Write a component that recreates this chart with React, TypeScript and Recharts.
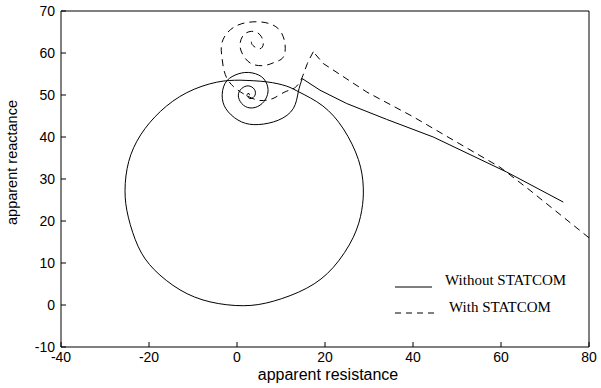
import React from "react";
import { LineChart, Line, XAxis, YAxis, Legend } from "recharts";

const X_TICKS = [-40, -20, 0, 20, 40, 60, 80];
const Y_TICKS = [-10, 0, 10, 20, 30, 40, 50, 60, 70];

const FONT = "'Liberation Sans', Arial, Helvetica, sans-serif";
const SERIF = "'Liberation Serif', 'Times New Roman', serif";

// Without STATCOM: load line up to the fault point
const solidLine = [
  { x: 74.16, y: 24.5 },
  { x: 61.3, y: 31.65 },
  { x: 44.6, y: 40.0 },
  { x: 34.0, y: 44.2 },
  { x: 24.93, y: 47.97 },
  { x: 18.86, y: 51.15 },
  { x: 14.84, y: 53.9 },
];

// Without STATCOM: spiral during the fault
const solidSpiral = [
  { x: 14.84, y: 53.9 },
  { x: 13.93, y: 50.74 },
  { x: 12.8, y: 46.78 },
  { x: 9.39, y: 44.0 },
  { x: 4.84, y: 42.96 },
  { x: 1.07, y: 43.58 },
  { x: -1.98, y: 45.97 },
  { x: -3.34, y: 49.16 },
  { x: -2.73, y: 52.74 },
  { x: -0.45, y: 54.73 },
  { x: 2.57, y: 55.37 },
  { x: 5.61, y: 54.32 },
  { x: 6.98, y: 51.93 },
  { x: 6.75, y: 49.55 },
  { x: 5.23, y: 47.57 },
  { x: 2.95, y: 46.92 },
  { x: 1.07, y: 47.97 },
  { x: 0.3, y: 49.95 },
  { x: 1.07, y: 51.55 },
  { x: 2.57, y: 52.17 },
  { x: 3.93, y: 51.38 },
  { x: 4.09, y: 49.95 },
  { x: 3.18, y: 49.16 },
  { x: 2.43, y: 49.55 },
  { x: 2.27, y: 50.12 },
  { x: 2.73, y: 50.36 },
  { x: 2.8, y: 49.95 },
];

// Without STATCOM: power swing loop
const solidSwing = [
  { x: 0.68, y: 53.53 },
  { x: 6.75, y: 53.13 },
  { x: 11.3, y: 52.1 },
  { x: 14.32, y: 50.6 },
  { x: 19.5, y: 47.4 },
  { x: 24.2, y: 41.9 },
  { x: 27.6, y: 34.6 },
  { x: 28.7, y: 28.07 },
  { x: 28.34, y: 22.5 },
  { x: 26.43, y: 16.13 },
  { x: 21.89, y: 8.97 },
  { x: 15.84, y: 4.0 },
  { x: 8.25, y: 0.9 },
  { x: 1.43, y: -0.17 },
  { x: -6.14, y: 0.75 },
  { x: -12.95, y: 3.6 },
  { x: -18.8, y: 8.4 },
  { x: -22.43, y: 13.85 },
  { x: -24.7, y: 20.91 },
  { x: -25.45, y: 27.28 },
  { x: -24.6, y: 34.2 },
  { x: -21.9, y: 40.5 },
  { x: -17.4, y: 46.1 },
  { x: -11.43, y: 50.55 },
  { x: -4.61, y: 53.05 },
  { x: 0.68, y: 53.53 },
];

// With STATCOM: load line
const dashedLine = [
  { x: 80.0, y: 16.0 },
  { x: 66.6, y: 27.3 },
  { x: 59.8, y: 32.8 },
  { x: 49.9, y: 38.8 },
  { x: 40.07, y: 44.8 },
  { x: 29.5, y: 50.7 },
  { x: 19.6, y: 57.5 },
  { x: 17.34, y: 60.29 },
];

// With STATCOM: spiral
const dashedSpiral = [
  { x: 17.34, y: 60.29 },
  { x: 16.0, y: 57.5 },
  { x: 15.0, y: 54.7 },
  { x: 13.9, y: 52.5 },
  { x: 12.43, y: 51.3 },
  { x: 10.9, y: 50.74 },
  { x: 8.64, y: 49.4 },
  { x: 7.34, y: 48.93 },
  { x: 4.77, y: 48.76 },
  { x: 1.36, y: 50.36 },
  { x: -0.8, y: 52.0 },
  { x: -2.3, y: 54.0 },
  { x: -3.11, y: 56.63 },
  { x: -3.48, y: 59.5 },
  { x: -3.48, y: 62.2 },
  { x: -2.05, y: 64.99 },
  { x: 1.07, y: 66.97 },
  { x: 5.61, y: 67.37 },
  { x: 9.39, y: 65.78 },
  { x: 10.9, y: 62.2 },
  { x: 10.52, y: 59.02 },
  { x: 8.64, y: 57.83 },
  { x: 6.36, y: 57.04 },
  { x: 3.34, y: 57.42 },
  { x: 1.43, y: 59.43 },
  { x: 0.68, y: 61.81 },
  { x: 1.43, y: 64.2 },
  { x: 3.34, y: 65.16 },
  { x: 5.23, y: 64.34 },
  { x: 5.98, y: 62.2 },
  { x: 5.23, y: 61.0 },
  { x: 4.09, y: 61.41 },
  { x: 3.34, y: 62.2 },
  { x: 3.41, y: 63.08 },
  { x: 4.09, y: 63.3 },
];

const tickStyle = { fill: "#000", fontSize: 14, fontFamily: FONT };

const XLabel = ({ viewBox }: any) => (
  <text
    x={viewBox.x + viewBox.width / 2 + 3}
    y={viewBox.y + viewBox.height - 8}
    textAnchor="middle"
    fill="#000"
    fontSize={16}
    fontFamily={FONT}
  >
    apparent resistance
  </text>
);

const YLabel = ({ viewBox }: any) => {
  const cx = 17;
  const cy = viewBox.y + viewBox.height / 2 - 16.5;
  return (
    <text
      x={cx}
      y={cy}
      transform={`rotate(-90, ${cx}, ${cy})`}
      textAnchor="middle"
      fill="#000"
      fontSize={14.5}
      fontFamily={FONT}
    >
      apparent reactance
    </text>
  );
};

const LegendBox = () => (
  <svg width={200} height={56} style={{ display: "block" }}>
    <line x1={5} y1={22} x2={42} y2={22} stroke="#000" strokeWidth={1} />
    <text x={55} y={20} fontSize={15} fontFamily={SERIF} fill="#000">
      Without STATCOM
    </text>
    <line x1={5} y1={48} x2={47} y2={48} stroke="#000" strokeWidth={1} strokeDasharray="6 5" />
    <text x={59} y={47} fontSize={15} fontFamily={SERIF} fill="#000">
      With STATCOM
    </text>
  </svg>
);

const lineProps = {
  dataKey: "y",
  stroke: "#000",
  strokeWidth: 1,
  dot: false,
  activeDot: false,
  isAnimationActive: false,
  legendType: "none" as const,
};

export default function App() {
  return (
    <div style={{ width: 601, height: 388, background: "#fff", fontFamily: FONT }}>
      <style>{"body{margin:0;background:#fff}"}</style>
      <LineChart width={601} height={388} margin={{ top: 10, right: 11, bottom: 0, left: 0 }}>
        <XAxis
          xAxisId={0}
          dataKey="x"
          type="number"
          domain={[-40, 80]}
          ticks={X_TICKS}
          interval={0}
          height={41}
          tickSize={-5}
          tickMargin={10}
          tick={tickStyle}
          stroke="#000"
          label={<XLabel />}
        />
        <XAxis
          xAxisId="top"
          orientation="top"
          dataKey="x"
          type="number"
          domain={[-40, 80]}
          ticks={X_TICKS}
          interval={0}
          height={1}
          tickSize={-5}
          tickFormatter={() => ""}
          stroke="#000"
        />
        <YAxis
          yAxisId={0}
          type="number"
          domain={[-10, 70]}
          ticks={Y_TICKS}
          interval={0}
          width={61}
          tickSize={-5}
          tickMargin={11}
          tick={tickStyle}
          stroke="#000"
          label={<YLabel />}
        />
        <YAxis
          yAxisId="right"
          orientation="right"
          type="number"
          domain={[-10, 70]}
          ticks={Y_TICKS}
          interval={0}
          width={1}
          tickSize={-5}
          tickFormatter={() => ""}
          stroke="#000"
        />
        <Legend
          layout="horizontal"
          verticalAlign="middle"
          content={<LegendBox />}
          wrapperStyle={{ position: "absolute", left: 390, top: 265, width: 200, height: 56 }}
        />
        <Line {...lineProps} data={solidSwing} type="natural" />
        <Line {...lineProps} data={solidLine} type="linear" />
        <Line {...lineProps} data={solidSpiral} type="natural" />
        <Line {...lineProps} data={dashedLine} type="linear" strokeDasharray="7 5" />
        <Line {...lineProps} data={dashedSpiral} type="natural" strokeDasharray="7 5" />
      </LineChart>
    </div>
  );
}
